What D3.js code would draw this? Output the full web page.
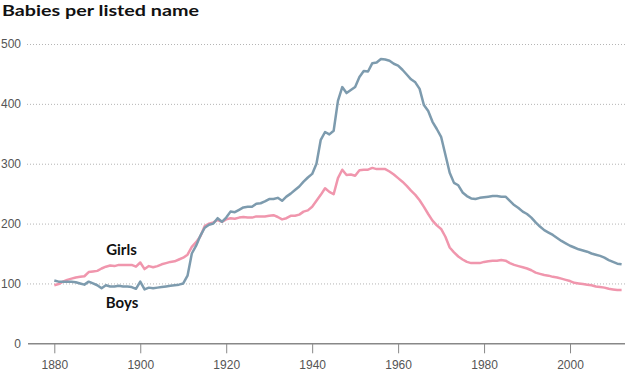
<!DOCTYPE html>
<html>
<head>
<meta charset="utf-8">
<script src="https://cdn.jsdelivr.net/npm/d3@7"></script>
<style>
  body { margin: 0; background: #fff; }
  svg { display: block; font-family: "Century Gothic", "Lato", sans-serif; }
  .grid line { stroke: #b5b5b5; stroke-dasharray: 1,2; }
  .tick text { fill: #555; font-size: 12px; }
</style>
</head>
<body>
<div class="chart"></div>
<script>

var startYear = 1880, endYear = 2012;

// babies per listed name, 1880..2012
var girls = [
  97, 99, 103, 106, 108, 110, 111, 112, 119, 120,
  121, 125, 128, 130, 129, 131, 131, 131, 131, 128,
  135, 124, 129, 127, 129, 132, 134, 136, 137, 140,
  143, 148, 161, 169, 179, 196, 200, 202, 206, 203,
  207, 209, 208, 210, 211, 210, 210, 212, 212, 212,
  213, 214, 211, 207, 209, 213, 213, 215, 220, 222,
  228, 238, 248, 259, 253, 249, 276, 290, 281, 282,
  280, 289, 290, 290, 293, 291, 291, 291, 287, 282,
  276, 270, 263, 255, 248, 239, 228, 216, 205, 197,
  191, 178, 160, 152, 145, 140, 136, 134, 134, 134,
  136, 137, 138, 138, 139, 138, 134, 131, 129, 127,
  125, 122, 118, 116, 114, 113, 111, 110, 108, 106,
  104, 101, 100, 99, 98, 97, 95, 94, 93, 91,
  90, 89, 89
];

var boys = [
  105, 103, 103, 103, 103, 102, 100, 98, 103, 100,
  97, 92, 97, 95, 95, 96, 95, 95, 94, 91,
  103, 90, 93, 92, 93, 94, 95, 96, 97, 98,
  100, 113, 150, 163, 180, 193, 198, 200, 209, 203,
  210, 220, 219, 223, 227, 228, 228, 233, 234, 237,
  241, 241, 243, 238, 245, 250, 256, 262, 270, 277,
  283, 300, 340, 353, 349, 355, 405, 428, 418, 423,
  428, 445, 455, 454, 468, 469, 475, 474, 472, 467,
  464, 457, 449, 441, 436, 425, 398, 388, 370, 358,
  345, 315, 285, 268, 264, 252, 246, 242, 241, 243,
  244, 245, 246, 246, 245, 245, 238, 231, 226, 220,
  216, 210, 202, 195, 189, 185, 181, 176, 171, 167,
  163, 160, 157, 155, 153, 150, 148, 146, 143, 139,
  136, 133, 132
];

var yTicks = [0, 100, 200, 300, 400, 500];
var xTicks = [1880, 1900, 1920, 1940, 1960, 1980, 2000];

var width = 625, height = 375;

var svg = d3.select(".chart").append("svg")
    .attr("width", width)
    .attr("height", height);

var x = d3.scaleLinear()
    .domain([startYear, endYear])
    .range([54.3, 621.6]);

var y = d3.scaleLinear()
    .domain([0, 500])
    .range([343.3, 44]);

// title
svg.append("text")
    .attr("x", 2)
    .attr("y", 15.5)
    .style("font-size", "16px")
    .style("font-weight", "bold")
    .attr("textLength", 197)
    .attr("lengthAdjust", "spacingAndGlyphs")
    .attr("fill", "#111")
    .text("Babies per listed name");

// y gridlines + labels
var yAxis = svg.append("g")
    .attr("class", "grid")
    .attr("transform", "translate(27,0)")
    .call(d3.axisLeft(y).tickValues(yTicks).tickSize(-(width - 27)).tickPadding(6));
yAxis.select(".domain").remove();
yAxis.selectAll(".tick").filter(function(d) { return d === 0; }).select("line").remove();

// x axis
var xAxis = svg.append("g")
    .attr("transform", "translate(0," + y(0) + ")")
    .call(d3.axisBottom(x).tickValues(xTicks).tickFormat(d3.format("d")).tickSize(10).tickSizeOuter(0).tickPadding(7));
xAxis.select(".domain")
    .attr("d", "M28,0.5H" + width + "")
    .attr("stroke", "#888")
    .attr("stroke-width", 1.5);
xAxis.selectAll(".tick line").attr("stroke", "#888").attr("stroke-width", 1);

var years = d3.range(startYear, endYear + 1);

var line = d3.line()
    .x(function(d, i) { return x(years[i]); })
    .y(function(d) { return y(d); });

svg.append("path")
    .datum(girls)
    .attr("fill", "none")
    .attr("stroke", "#f096ad")
    .attr("stroke-width", 2.5)
    .attr("stroke-linejoin", "round")
    .attr("d", line);

svg.append("path")
    .datum(boys)
    .attr("fill", "none")
    .attr("stroke", "#7d9bae")
    .attr("stroke-width", 2.5)
    .attr("stroke-linejoin", "round")
    .attr("d", line);

svg.append("text")
    .attr("x", 121.5)
    .attr("y", 255)
    .attr("text-anchor", "middle")
    .style("font-size", "15px")
    .style("font-weight", "bold")
    .attr("fill", "#111")
    .text("Girls");

svg.append("text")
    .attr("x", 122)
    .attr("y", 308)
    .attr("text-anchor", "middle")
    .style("font-size", "15px")
    .style("font-weight", "bold")
    .attr("fill", "#111")
    .text("Boys");

</script>
</body>
</html>
